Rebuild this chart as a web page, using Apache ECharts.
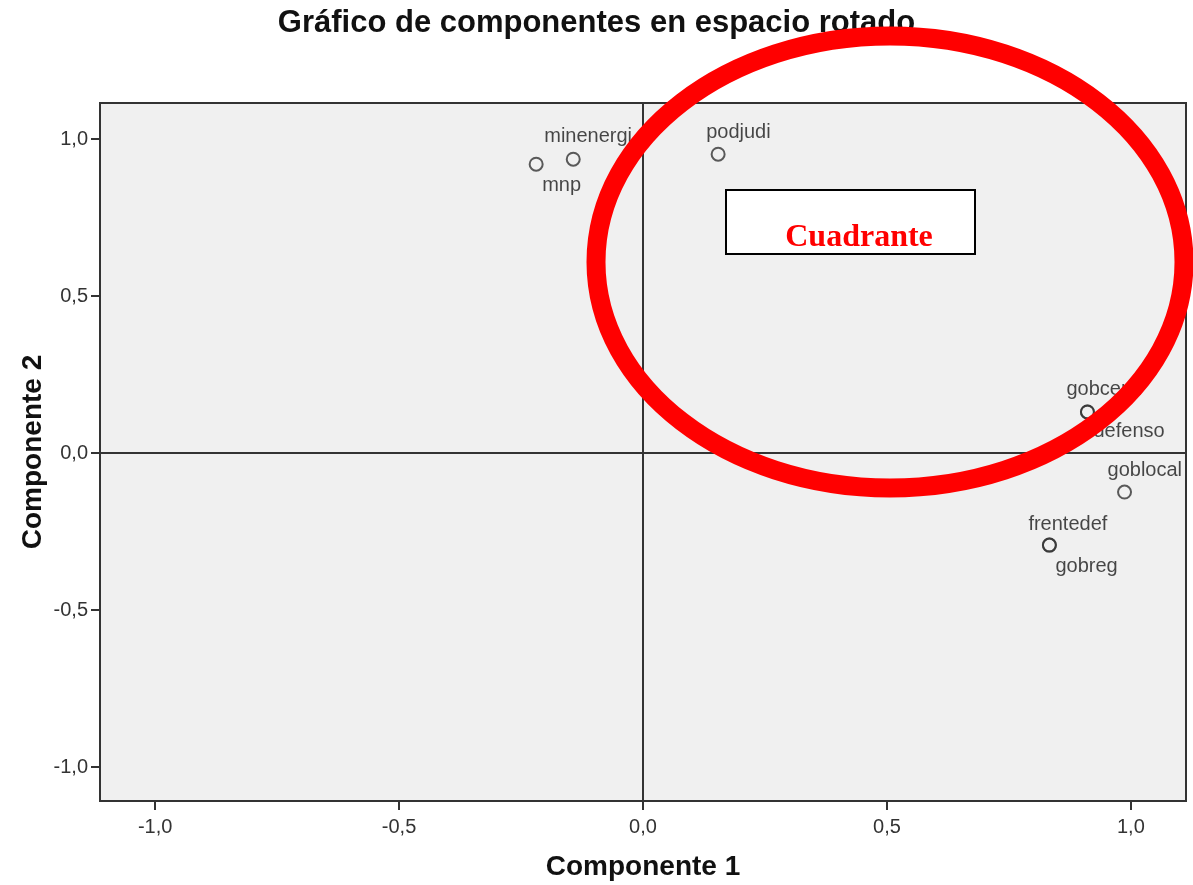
<!DOCTYPE html>
<html>
<head>
<meta charset="utf-8">
<script src="https://cdn.jsdelivr.net/npm/echarts@6/dist/echarts.min.js"></script>
<style>
  html, body { margin: 0; padding: 0; background: #fff; }
  #chart { width: 1193px; height: 885px; }
</style>
</head>
<body>
<div id="chart"></div>
<script>
// cargas de componentes
var names = ['minenergi', 'mnp', 'podjudi', 'gobcentr', 'defenso', 'goblocal', 'frentedef', 'gobreg'];
var comp1 = [-0.143, -0.219, 0.154, 0.911, 0.911, 0.987, 0.833, 0.833];
var comp2 = [0.936, 0.920, 0.952, 0.131, 0.131, -0.124, -0.293, -0.293];
var tickValues = [-1, -0.5, 0, 0.5, 1];

// desplazamiento de cada etiqueta respecto a su punto
var labelOffsets = [[-29, -23], [6, 21], [-12, -22], [-21, -22], [6, 20], [-17, -22], [-21, -21], [6, 21]];

var font = 'Arial, "Liberation Sans", sans-serif';
var ink = '#333';

function fmt(v) {
  return v.toFixed(1).replace('.', ',');
}

var points = names.map(function (n, i) {
  return {
    name: n,
    value: [comp1[i], comp2[i]],
    label: { offset: labelOffsets[i] }
  };
});

var option = {
  animation: false,
  title: {
    text: 'Gráfico de componentes en espacio rotado',
    left: 'center',
    top: 3,
    textStyle: { fontFamily: font, fontSize: 31, fontWeight: 'bold', color: '#111' }
  },
  grid: {
    left: 100, top: 103, right: 7, bottom: 84,
    outerBoundsMode: 'none',
    show: true,
    backgroundColor: '#f0f0f0',
    borderColor: ink,
    borderWidth: 2
  },
  xAxis: {
    type: 'value',
    min: -1.113, max: 1.113,
    name: 'Componente 1',
    nameLocation: 'middle',
    nameGap: 52,
    nameMoveOverlap: false,
    nameTextStyle: { fontFamily: font, fontSize: 28, fontWeight: 'bold', color: '#111' },
    axisLine: { show: false, onZero: false },
    splitLine: { show: false },
    axisTick: { show: true, length: 9, customValues: tickValues, lineStyle: { color: ink, width: 2 } },
    axisLabel: {
      customValues: tickValues, margin: 16,
      fontFamily: font, fontSize: 20, color: '#333',
      formatter: function (v) { return fmt(v); }
    }
  },
  yAxis: {
    type: 'value',
    min: -1.108, max: 1.115,
    name: 'Componente 2',
    nameLocation: 'middle',
    nameGap: 53,
    nameMoveOverlap: false,
    nameTextStyle: { fontFamily: font, fontSize: 28, fontWeight: 'bold', color: '#111' },
    axisLine: { show: false, onZero: false },
    splitLine: { show: false },
    axisTick: { show: true, length: 9, customValues: tickValues, lineStyle: { color: ink, width: 2 } },
    axisLabel: {
      customValues: tickValues, margin: 12,
      fontFamily: font, fontSize: 20, color: '#333',
      formatter: function (v) { return fmt(v); }
    }
  },
  series: [{
    type: 'scatter',
    data: points,
    symbol: 'circle',
    symbolSize: 13,
    itemStyle: { color: 'rgba(0,0,0,0)', borderColor: ink, borderWidth: 2 },
    label: {
      show: true,
      position: 'inside',
      align: 'left',
      verticalAlign: 'middle',
      formatter: '{b}',
      fontFamily: font,
      fontSize: 20,
      color: '#1a1a1a'
    },
    emphasis: { disabled: true },
    markLine: {
      silent: true,
      symbol: 'none',
      label: { show: false },
      lineStyle: { color: ink, width: 2, type: 'solid' },
      data: [{ xAxis: 0 }, { yAxis: 0 }]
    }
  }],
  graphic: [
    {
      type: 'rect', z: 100,
      shape: { x: 726, y: 190, width: 249, height: 64 },
      style: { fill: '#fff', stroke: '#000', lineWidth: 2 }
    },
    {
      type: 'text', z: 101,
      x: 859, y: 254,
      style: {
        text: 'Cuadrante',
        fill: '#ff0000',
        font: 'bold 32px "Liberation Serif", "Times New Roman", serif',
        align: 'center',
        verticalAlign: 'bottom'
      }
    },
    {
      type: 'rect', z: 102,
      shape: { x: 728, y: 248, width: 245, height: 5 },
      style: { fill: '#fff' }
    },
    {
      type: 'ellipse', z: 110,
      shape: { cx: 890, cy: 262, rx: 294, ry: 226 },
      style: { fill: 'none', stroke: '#ff0000', lineWidth: 19 }
    }
  ]
};

var myChart = echarts.init(document.getElementById('chart'));
myChart.setOption(option);
</script>
</body>
</html>
